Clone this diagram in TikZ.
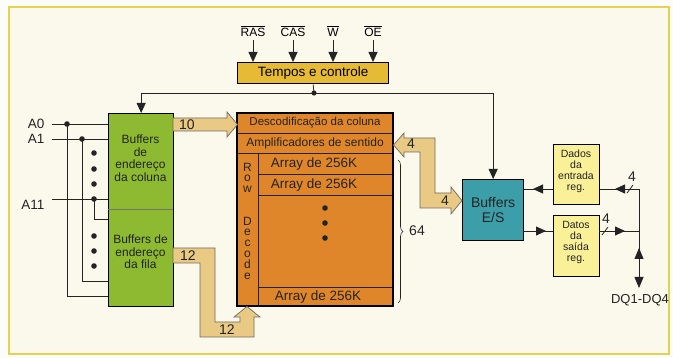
\documentclass[tikz,border=0pt]{standalone}
\usepackage{fontspec}
\setmainfont{Liberation Sans}
\usetikzlibrary{arrows.meta,decorations.pathreplacing,calc}
\definecolor{outerbg}{RGB}{252,252,249}
\definecolor{cream}{RGB}{251,248,236}
\definecolor{framey}{RGB}{232,208,80}
\definecolor{gbox}{RGB}{141,186,48}
\definecolor{obox}{RGB}{224,134,42}
\definecolor{goldbox}{RGB}{230,186,52}
\definecolor{tanf}{RGB}{233,202,132}
\definecolor{tanedge}{RGB}{115,105,95}
\definecolor{tealbox}{RGB}{60,158,168}
\definecolor{ybox}{RGB}{250,240,152}
\definecolor{ink}{RGB}{35,35,35}
\tikzset{
  box/.style={draw=black, line width=1.3pt, inner sep=0pt, anchor=north west, align=center},
  wire/.style={draw=ink, line width=0.8pt},
  arr/.style={wire, -{Triangle[length=10pt,width=9pt]}},
  fat/.style={fill=tanf, draw=tanedge, line width=0.7pt, line join=miter},
  inner/.style={draw=ink, line width=0.7pt},
  sz/.style={font=\fontsize{#1}{#1}\selectfont},
  ml/.style 2 args={align=center, text=ink, font=\fontsize{#1}{#2}\selectfont},
}
\begin{document}
\begin{tikzpicture}[x=1pt,y=-1pt]
\useasboundingbox (0,0) rectangle (673,358);
\fill[outerbg] (0,0) rectangle (673,358);
\draw[draw=framey, line width=1.8pt, fill=cream] (9,7) rectangle (669,354);

% control block
\node[box, fill=goldbox, minimum width=151, minimum height=21, sz=13.5] (tc) at (237,62) {Tempos e controle};
\node[sz=12] (ras) at (253,31) {$\overline{\mbox{RAS}}$};
\node[sz=12] (cas) at (293,31) {$\overline{\mbox{CAS}}$};
\node[sz=12] (wr) at (333,31) {$\overline{\mbox{W}}$};
\node[sz=12] (oe) at (373,31) {$\overline{\mbox{OE}}$};
\foreach \s in {ras,cas,wr,oe}{
  \draw[arr] (\s.south) -- (\s.south |- tc.north);
}

% boxes
\node[box, fill=gbox, minimum width=65, minimum height=193] (gb) at (108,113) {};
\node[box, fill=obox, minimum width=156, minimum height=193] (ob) at (237,113) {};
\node[box, fill=tealbox, minimum width=61, minimum height=61] (bes) at (462,179) {};
\node[ml={14}{15}] (best) at (bes.center) {Buffers\\E/S};
\node[box, fill=ybox, minimum width=46, minimum height=60] (din) at (553,144) {};
\node[box, fill=ybox, minimum width=46, minimum height=61] (dout) at (553,215) {};
\node[ml={10.5}{11}] (dint) at (576,171.5) {Dados\\da\\entrada\\reg.};
\node[ml={10.5}{11}] (doutt) at (576,242.5) {Datos\\da\\saída\\reg.};

% green box contents
\draw[draw=black!55, line width=0.6pt] (108,209) -- (173,209);
\node[ml={12}{12.5}] (gt1) at (140.5,158) {Buffers\\de\\endereço\\da coluna};
\node[ml={12}{12.5}] (gt2) at (140.5,252) {Buffers de\\endereço\\da fila};

% orange box contents
\draw[inner] (237,133) -- (393,133);
\draw[inner] (237,153) -- (393,153);
\draw[inner] (258,153) -- (258,306);
\draw[inner] (258,174) -- (393,174);
\draw[inner] (258,195) -- (393,195);
\draw[inner] (258,287) -- (393,287);
\draw[line width=1.3pt] (237,113) rectangle (393,306);
\node[sz=11.5, text=ink] (dc) at (315,123) {Descodificação da coluna};
\node[sz=12, text=ink] (am) at (315,143) {Amplificadores de sentido};
\node[sz=13.5, text=ink] (ar1) at (314,164) {Array de 256K};
\node[sz=13.5, text=ink] (ar2) at (314,185) {Array de 256K};
\node[sz=13.5, text=ink] (ar3) at (318,297) {Array de 256K};
\node[ml={12}{10.8}] (rd) at (247.5,221) {R\\o\\w\\[21.6pt]D\\e\\c\\o\\d\\e};
\foreach \yy in {208,223,238}{ \fill[ink] (325,\yy) circle (2.8); }

% brace
\draw[ink, line width=0.6pt, decorate, decoration={brace, amplitude=5pt}] (398,160) -- (398,303);
\node[sz=14, text=ink] (n64) at (417,231) {64};

% control bus
\coordinate (j) at (314,93);
\draw[wire] (tc.south) -- (j);
\draw[arr] (j) -| (gb.north);
\draw[arr] (j) -| (bes.north);
\fill[ink] (j) circle (2.6);

% address inputs
\node[sz=13.5, text=ink, anchor=east] (a0) at (48,124) {A0};
\node[sz=13.5, text=ink, anchor=east] (a1) at (48,139) {A1};
\node[sz=13.5, text=ink, anchor=east] (a11) at (48,205) {A11};
\draw[wire] (52,124) -- (108,124);
\draw[wire] (52,139) -- (108,139);
\draw[wire] (52,199) -- (108,199);
\draw[wire] (67,124) -- (67,296) -- (108,296);
\draw[wire] (82,139) -- (82,281) -- (108,281);
\draw[wire] (94,199) -- (94,219) -- (108,219);
\fill[ink] (67,124) circle (2.8);
\fill[ink] (82,139) circle (2.8);
\fill[ink] (94,199) circle (2.8);
\foreach \yy in {153,169,184,236,251,266}{ \fill[ink] (94,\yy) circle (2.8); }

% fat arrows
\draw[fat] (173,118) -- (227,118) -- (227,112) -- (237.5,124.5) -- (227,137) -- (227,131) -- (173,131) -- cycle;
\node[sz=14, text=ink] (l10) at (187,125) {10};
\draw[fat] (173,248) -- (215,248) -- (215,322) -- (240,322) -- (240,317) -- (234,317) -- (247,306.5) -- (260,317) -- (254,317) -- (254,337) -- (200,337) -- (200,263) -- (173,263) -- cycle;
\node[sz=14, text=ink] (l12a) at (188,256) {12};
\node[sz=14, text=ink] (l12b) at (227,330) {12};
\draw[fat] (393.5,145) -- (404,133) -- (404,138) -- (435,138) -- (435,193) -- (451,193) -- (451,187) -- (462,200.5) -- (451,214) -- (451,208) -- (420,208) -- (420,152) -- (404,152) -- (404,157) -- cycle;
\node[sz=14, text=ink] (l4a) at (411,144) {4};
\node[sz=14, text=ink] (l4b) at (445,201) {4};

% buffers <-> registers
\draw[wire] (din.west |- 0,189) -- (bes.east |- 0,189);
\draw[arr] (553,189) -- (533,189);
\draw[wire] (bes.east |- 0,231) -- (dout.west |- 0,231);
\draw[arr] (523,231) -- (546,231);

% data pins
\coordinate (t1) at (639,189);
\coordinate (t2) at (639,231);
\draw[wire] (t1) -- (din.east |- t1);
\draw[arr] (t1) -- (615,189);
\draw[wire] (627,193) -- (633,185);
\node[sz=14, text=ink] (l4c) at (632,177) {4};
\draw[wire] (dout.east |- t2) -- (t2);
\draw[arr] (599,231) -- (625,231);
\draw[wire] (602,235) -- (608,227);
\node[sz=14, text=ink] (l4d) at (606,219) {4};
\draw[wire] (t1) -- (639,252);
\draw[wire, {Triangle[length=11pt,width=9pt]}-{Triangle[length=11pt,width=9pt]}] (639,248) -- (639,288);
\node[sz=13, text=ink] (dq) at (640,300) {DQ1-DQ4};
\end{tikzpicture}
\end{document}
